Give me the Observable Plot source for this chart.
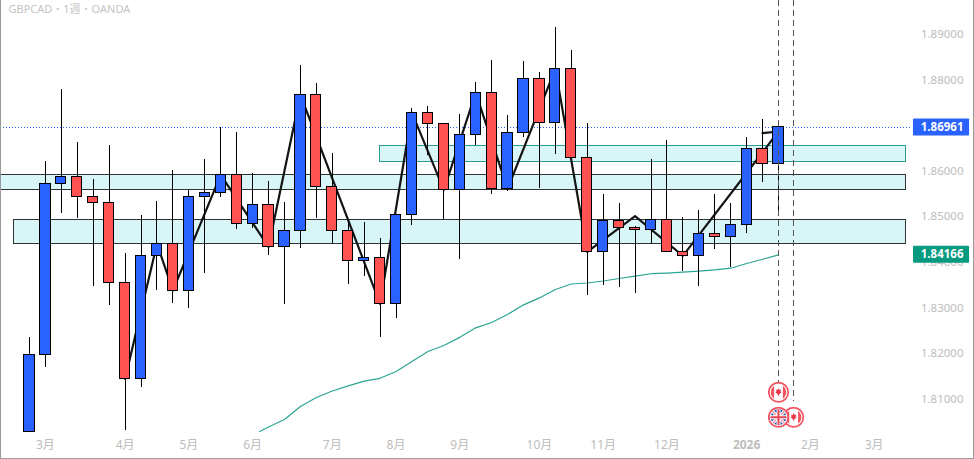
<!DOCTYPE html>
<html>
<head>
<meta charset="utf-8">
<script src="https://cdn.jsdelivr.net/npm/d3@7"></script>
<script src="https://cdn.jsdelivr.net/npm/@observablehq/plot@0.6"></script>
<style>
html,body{margin:0;padding:0;background:#fff}
#chart{position:relative;width:974px;height:459px;overflow:hidden}
#chart svg{display:block}
#chart::after{content:"";position:absolute;inset:0;box-sizing:border-box;border-left:1.5px solid #9a9a9a;border-right:1.5px solid #9a9a9a;border-bottom:1.5px solid #9a9a9a;pointer-events:none}
</style>
</head>
<body>
<div id="chart"></div>
<script>
const titleText = "GBPCAD・1週・OANDA";
const opens  = [1.80288,1.81971,1.85724,1.85877,1.85438,1.85307,1.83551,1.81445,1.84144,1.84407,1.83376,1.85438,1.85526,1.85921,1.84846,1.85263,1.84341,1.84692,1.87677,1.85658,1.84692,1.84034,1.84100,1.83090,1.85043,1.87282,1.87040,1.85592,1.86799,1.87721,1.85614,1.86843,1.88028,1.87062,1.88247,1.86294,1.84232,1.84912,1.84758,1.84714,1.84934,1.84232,1.84144,1.84627,1.84561,1.84824,1.86492,1.86163];
const closes = [1.81971,1.85724,1.85877,1.85438,1.85307,1.83551,1.81445,1.84144,1.84407,1.83376,1.85438,1.85526,1.85921,1.84846,1.85263,1.84341,1.84692,1.87677,1.85658,1.84692,1.84034,1.84100,1.83090,1.85043,1.87282,1.87040,1.85592,1.86799,1.87721,1.85614,1.86843,1.88028,1.87062,1.88247,1.86294,1.84232,1.84912,1.84758,1.84714,1.84934,1.84232,1.84144,1.84627,1.84561,1.84824,1.86492,1.86163,1.86961];
const highs  = [1.82351,1.86213,1.87793,1.86630,1.85818,1.86564,1.84194,1.85028,1.85335,1.86016,1.85577,1.86257,1.86959,1.86849,1.85950,1.85774,1.85313,1.88320,1.87925,1.86389,1.84918,1.84868,1.84517,1.85043,1.87370,1.87420,1.87040,1.87244,1.87947,1.88429,1.87223,1.88408,1.88166,1.89154,1.88649,1.87047,1.85489,1.85291,1.84787,1.86250,1.86674,1.84984,1.85138,1.85489,1.85291,1.86740,1.87135,1.86961];
const lows   = [1.80288,1.81699,1.85079,1.84962,1.83477,1.83060,1.80303,1.81260,1.83389,1.83104,1.82994,1.83762,1.85430,1.84721,1.84743,1.84157,1.83082,1.84311,1.84962,1.84407,1.83521,1.83696,1.82358,1.82775,1.84815,1.86338,1.84934,1.84069,1.86564,1.85496,1.85561,1.86733,1.85627,1.86373,1.86294,1.83284,1.83503,1.83455,1.83310,1.84385,1.84210,1.83799,1.83477,1.84289,1.83887,1.84640,1.85759,1.85094];

const zigzagIndex = [6,8,9,12,15,17,22,24,26,28,30,33,35,38,41,47,46];
const zigzagPrice = [1.81445,1.84407,1.83382,1.85921,1.84341,1.87677,1.83090,1.87282,1.85592,1.87721,1.85614,1.88247,1.84232,1.85013,1.84144,1.86871,1.86834];

const emaIndex = [14.44,15,16,17,18,19,20,21,22,23,24,25,26,27,28,29,30,31,32,33,34,35,36,37,38,39,40,41,42,43,44,45,46,47];
const emaPrice = [1.80288,1.80387,1.80552,1.80837,1.81034,1.81177,1.81291,1.81396,1.81456,1.81605,1.81824,1.82044,1.82175,1.82355,1.82564,1.82680,1.82856,1.83068,1.83220,1.83404,1.83525,1.83547,1.83591,1.83646,1.83700,1.83751,1.83766,1.83784,1.83808,1.83834,1.83872,1.83975,1.84069,1.84166];

const zoneStart = [22,-1.9,-1];
const zoneEnd   = [55,55,55];
const zoneTop   = [1.86558,1.85921,1.84934];
const zoneBottom= [1.86207,1.85592,1.84407];
const zoneStroke= ["#2a9d8f","#2f3336","#2f3336"];

const priceTicks = [1.81,1.82,1.83,1.84,1.85,1.86,1.88,1.89];
const monthTickIndex = [1,6,10,14,19,23,27,32,36,40,49,53];
const monthTickLabel = ["3月","4月","5月","6月","7月","8月","9月","10月","11月","12月","2月","3月"];
const yearTickIndex = [45];
const yearTickLabel = ["2026"];

const lastPrice = 1.86961;
const emaLast = 1.84166;
const tagPrices = [lastPrice, emaLast];
const tagFill = ["#2962ff","#089981"];
const eventIndex = [47,47.95];

const candles = opens.map((o,i)=>({i,open:o,close:closes[i],high:highs[i],low:lows[i]}));
const zones = zoneStart.map((s,i)=>({s,e:zoneEnd[i],top:zoneTop[i],bottom:zoneBottom[i],stroke:zoneStroke[i]}));
const zigzag = zigzagIndex.map((x,i)=>({x,y:zigzagPrice[i]}));
const ema = emaIndex.map((x,i)=>({x,y:emaPrice[i]}));
const tags = tagPrices.map((p,i)=>({p,fill:tagFill[i]}));

const ring = `<circle cx="11" cy="11" r="9.7" fill="#fff" stroke="#f4525f" stroke-width="1.7"/>`;
const wrap = s => "data:image/svg+xml," + encodeURIComponent(`<svg xmlns="http://www.w3.org/2000/svg" width="22" height="22" viewBox="0 0 22 22">${s}</svg>`);
const caFlag = wrap(`${ring}<clipPath id="c"><circle cx="11" cy="11" r="7.8"/></clipPath><g clip-path="url(#c)"><rect x="3" y="3" width="3.6" height="16" fill="#f4525f"/><rect x="15.4" y="3" width="3.6" height="16" fill="#f4525f"/><path d="M11 7l1.1 1.8 1.4-.5-.4 2.3 1 .4-2.6 2.2v1.3h-1v-1.3l-2.6-2.2 1-.4-.4-2.3 1.4.5z" fill="#ea3a4a"/></g>`);
const ukFlag = wrap(`${ring}<clipPath id="c"><circle cx="11" cy="11" r="7.9"/></clipPath><g clip-path="url(#c)"><rect width="22" height="22" fill="#2a5db0"/><path d="M2 2L20 20M20 2L2 20" stroke="#fff" stroke-width="3.2"/><path d="M2 2L20 20M20 2L2 20" stroke="#f4525f" stroke-width="1"/><path d="M11 0V22M0 11H22" stroke="#fff" stroke-width="4"/><path d="M11 0V22M0 11H22" stroke="#ee4454" stroke-width="2"/></g>`);
const icons = [
  {x:eventIndex[0], y:1.81150, src:caFlag},
  {x:eventIndex[1], y:1.80602, src:caFlag},
  {x:eventIndex[0], y:1.80602, src:ukFlag}
];

const font = '"Noto Sans","Noto Sans CJK JP",sans-serif';
const tickColor = "#bdbdbd";
const half = 0.32;

const plot = Plot.plot({
  width:974, height:459,
  marginTop:0, marginRight:11, marginBottom:28, marginLeft:0,
  style:{fontFamily:font, background:"#fff", overflow:"hidden"},
  x:{type:"linear", domain:[0,47], range:[29,778]},
  y:{type:"linear", domain:[1.81,1.89], range:[398.6,34]},
  marks:[
    Plot.rect(zones,{x1:"s",x2:"e",y1:"top",y2:"bottom",fill:"#d8f5f7",stroke:"stroke",strokeWidth:1,shapeRendering:"crispEdges"}),
    Plot.ruleY([lastPrice],{x1:-1.84,x2:55.3,stroke:"#2962ff",strokeWidth:1,strokeDasharray:"1 2",shapeRendering:"crispEdges"}),
    Plot.line(zigzag,{x:"x",y:"y",stroke:"#141414",strokeWidth:2.2,curve:"linear"}),
    Plot.line(ema,{x:"x",y:"y",stroke:"#2aa592",strokeWidth:1.2,curve:"linear"}),
    Plot.ruleX(candles,{x:"i",y1:"low",y2:"high",stroke:"#000",strokeWidth:1,shapeRendering:"crispEdges"}),
    Plot.rect(candles,{x1:d=>d.i-half,x2:d=>d.i+half,y1:"open",y2:"close",
      fill:d=>d.close>=d.open?"#2962ff":"#ff5252",stroke:"#000",strokeWidth:1,shapeRendering:"crispEdges"}),
    Plot.ruleX(eventIndex,{y1:1.8975,y2:1.8095,stroke:"#555",strokeWidth:1,strokeDasharray:"6 4",shapeRendering:"crispEdges"}),
    Plot.image(icons,{x:"x",y:"y",src:"src",width:22,height:22}),
    Plot.axisY({anchor:"right",ticks:priceTicks,tickSize:0,tickPadding:0,textAnchor:"end",tickFormat:d=>d.toFixed(5),fill:tickColor,fontSize:11.5,label:null}),
    Plot.axisX({anchor:"bottom",ticks:monthTickIndex,tickSize:0,tickPadding:9,tickFormat:d=>monthTickLabel[monthTickIndex.indexOf(d)],fill:tickColor,fontSize:12,label:null}),
    Plot.axisX({anchor:"bottom",ticks:yearTickIndex,tickSize:0,tickPadding:9,tickFormat:d=>yearTickLabel[yearTickIndex.indexOf(d)],fill:tickColor,fontSize:12,fontWeight:"bold",label:null}),
    Plot.rect(tags,{x1:55.47,x2:58.99,y1:d=>d.p-0.00186,y2:d=>d.p+0.00186,fill:"fill",rx:1}),
    Plot.text(tags,{y:"p",text:d=>d.p.toFixed(5),frameAnchor:"right",textAnchor:"end",fill:"#fff",fontSize:11.5,fontWeight:"bold"}),
    Plot.text([titleText],{frameAnchor:"top-left",dx:8,dy:5,fill:"#c4c4c4",fontSize:11})
  ]
});
document.getElementById("chart").appendChild(plot);
</script>
</body>
</html>
